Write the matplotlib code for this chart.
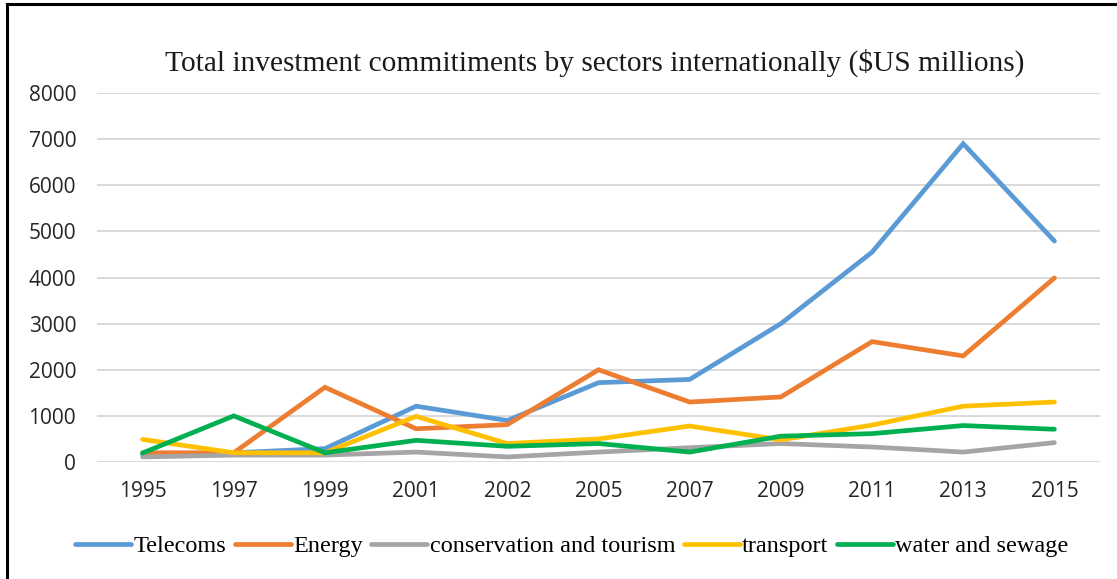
import matplotlib.pyplot as plt
from matplotlib.lines import Line2D

YEARS = ["1995", "1997", "1999", "2001", "2002", "2005", "2007", "2009", "2011", "2013", "2015"]
TELECOMS = [150, 200, 290, 1210, 900, 1720, 1790, 3000, 4550, 6900, 4790]
ENERGY = [200, 200, 1620, 720, 810, 2000, 1300, 1410, 2610, 2300, 3990]
CONSERVATION = [110, 150, 150, 215, 110, 215, 310, 400, 325, 215, 420]
TRANSPORT = [490, 200, 200, 990, 400, 500, 780, 480, 800, 1210, 1300]
WATER = [195, 1000, 200, 470, 340, 400, 215, 560, 615, 790, 710]

SERIES = [
    ("Telecoms", TELECOMS, "#5b9bd5"),
    ("Energy", ENERGY, "#ed7d31"),
    ("conservation and tourism", CONSERVATION, "#a5a5a5"),
    ("transport", TRANSPORT, "#ffc000"),
    ("water and sewage", WATER, "#00b050"),
]

fig = plt.figure(figsize=(11.17, 5.79), dpi=100)
ax = fig.add_axes([97 / 1117, 1 - 462 / 579, 1003 / 1117, 369 / 579])

x = list(range(len(YEARS)))
for name, vals, color in SERIES:
    ax.plot(x, vals, color=color, linewidth=3.4, solid_capstyle="round",
            solid_joinstyle="miter", label=name)

ax.set_xlim(-0.5, len(YEARS) - 0.5)
ax.set_ylim(0, 8000)
ax.set_yticks(range(0, 8001, 1000))
ax.set_xticks(x)
ax.set_xticklabels(YEARS)
ax.grid(axis="y", color="#d9d9d9", linewidth=1.4)
ax.set_axisbelow(True)
for s in ax.spines.values():
    s.set_visible(False)
ax.tick_params(length=0, labelsize=15, colors="#262626")
ax.tick_params(axis="y", pad=15)
ax.tick_params(axis="x", pad=14)
for lbl in ax.get_xticklabels() + ax.get_yticklabels():
    lbl.set_family("Open Sans")

fig.text(0.532, 1 - 63 / 579, "Total investment commitiments by sectors internationally ($US millions)",
         ha="center", va="center", family="Liberation Serif", fontsize=21.2, color="#1a1a1a")

fig.legend(loc="center", bbox_to_anchor=(0.512, 1 - 546 / 579), ncol=5, frameon=False,
           prop={"family": "Liberation Serif", "size": 17.5}, handlelength=2.3,
           handletextpad=0.1, columnspacing=0.35)

# outer frame pieces
fig.add_artist(Line2D([7 / 1117, 1], [1 - 4 / 579, 1 - 4 / 579], color="black", linewidth=2.2))
fig.add_artist(Line2D([7 / 1117, 7 / 1117], [0, 1 - 4 / 579], color="black", linewidth=2.2))

fig.savefig("out.png", dpi=100)
